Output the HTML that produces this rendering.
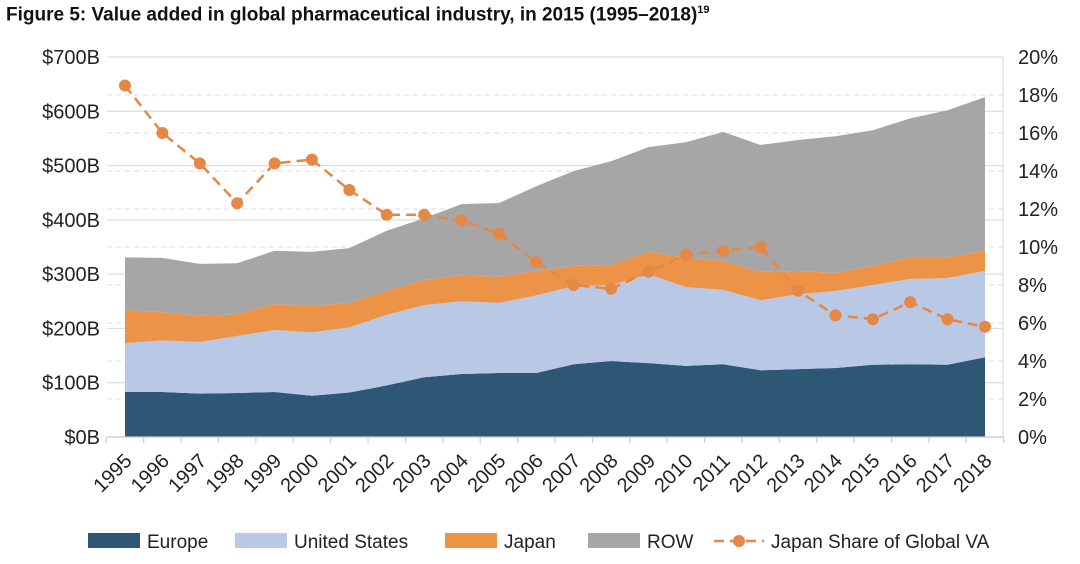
<!DOCTYPE html>
<html><head><meta charset="utf-8">
<style>
body{margin:0;background:#fff;width:1080px;height:564px;overflow:hidden;font-family:"Liberation Sans",sans-serif;}
#title{position:absolute;left:6px;top:4px;font-size:19px;font-weight:bold;font-family:"Liberation Sans Narrow","Liberation Sans",sans-serif;color:#111;white-space:nowrap;}
#title sup{font-size:11px;}
</style></head><body>
<div id="title">Figure 5: Value added in global pharmaceutical industry, in 2015 (1995–2018)<sup>19</sup></div>
<svg id="chart" width="1080" height="564" style="position:absolute;left:0;top:0"></svg>
<script>
const years=[1995,1996,1997,1998,1999,2000,2001,2002,2003,2004,2005,2006,2007,2008,2009,2010,2011,2012,2013,2014,2015,2016,2017,2018];
const europe=[83,83,80,81,83,76,82,95,110,116,118,118,134,140,136,131,134,123,125,127,133,134,133,147];
const unitedStates=[90,95,95,105,114,117,120,130,133,134,129,143,144,140,164,145,137,129,138,142,147,157,160,159];
const japan=[61,52,48,40,48,48,45,44,46,48,48,45,37,37,41,54,53,52,43,33,35,40,38,37];
const row=[97,100,96,94,98,100,101,111,114,131,136,156,175,191,193,213,238,234,241,252,250,256,271,283];
const japanShare=[18.5,16.0,14.4,12.3,14.4,14.6,13.0,11.7,11.7,11.4,10.7,9.2,8.0,7.8,8.7,9.6,9.8,10.0,7.7,6.4,6.2,7.1,6.2,5.8];
const leftTicks=[0,100,200,300,400,500,600,700];
const rightTicks=[0,2,4,6,8,10,12,14,16,18,20];

const svg=document.getElementById('chart');const NS='http://www.w3.org/2000/svg';
function mk(t,a,p){const e=document.createElementNS(NS,t);for(const k in a)e.setAttribute(k,a[k]);(p||svg).appendChild(e);return e;}
const x0=125,x1=985,yTop=57,yBot=437;
const step=(x1-x0)/(years.length-1);
const xs=i=>x0+step*i;
const yL=v=>yBot-(yBot-yTop)*v/700;
const yR=v=>yBot-(yBot-yTop)*v/20;
rightTicks.forEach(t=>{const g=mk('line',{x1:107,x2:1003,y1:yR(t),y2:yR(t),stroke:'#ddd','stroke-dasharray':'5,4','stroke-width':1});

});
leftTicks.forEach(t=>{const g=mk('line',{x1:107,x2:1003,y1:yL(t),y2:yL(t),stroke:'#ddd','stroke-width':1.2});


const l=mk('text',{x:100,y:yL(t)+7,'text-anchor':'end','font-size':20,fill:'#222'});l.textContent='$'+t+'B';

});
rightTicks.forEach(t=>{const l=mk('text',{x:1018,y:yR(t)+7,'font-size':20,fill:'#222'});l.textContent=t+'%';

});
const ax=mk('line',{x1:1003,x2:1003,y1:yTop,y2:yBot,stroke:'#ddd','stroke-width':1.2});


const series=[[europe,'#2e5775','europe-area'],[unitedStates,'#b8c8e5','united-states-area'],[japan,'#ec9348','japan-area'],[row,'#a6a6a6','row-area']];
let base=years.map(()=>0);
series.forEach(([d,c,n])=>{const topv=base.map((b,i)=>b+d[i]);
let p='M'+topv.map((v,i)=>xs(i)+','+yL(v)).join('L');
for(let i=years.length-1;i>=0;i--)p+='L'+xs(i)+','+yL(base[i]);
const a=mk('path',{d:p+'Z',fill:c});


base=topv;});
const bx=mk('line',{x1:107,x2:1003,y1:yBot,y2:yBot,stroke:'#ccc','stroke-width':1.2});


for(let i=0;i<=years.length;i++){const tk=mk('line',{x1:xs(i)-step/2,x2:xs(i)-step/2,y1:yBot,y2:yBot+6,stroke:'#ccc','stroke-width':1.2});

}
const ln=mk('polyline',{points:japanShare.map((v,i)=>xs(i)+','+yR(v)).join(' '),fill:'none',stroke:'#e58745','stroke-width':2.5,'stroke-dasharray':'10,6'});


japanShare.forEach((v,i)=>{const c=mk('circle',{cx:xs(i),cy:yR(v),r:6,fill:'#e58745'});

});
years.forEach((y,i)=>{const tx=xs(i)+8,ty=462;const t=mk('text',{x:tx,y:ty,'text-anchor':'end','font-size':20,fill:'#222',transform:`rotate(-45 ${tx} ${ty})`});t.textContent=y;

});
const leg=[['Europe','#2e5775',88,'rect'],['United States','#b8c8e5',235,'rect'],['Japan','#ec9348',445,'rect'],['ROW','#a6a6a6',588,'rect'],['Japan Share of Global VA','#e58745',714,'line']];
leg.forEach(([n,c,x,k])=>{const g=mk('g',{});


let tx;
if(k=='rect'){mk('rect',{x:x,y:533,width:52,height:15,fill:c},g);tx=x+59;}
else{mk('line',{x1:x,x2:x+50,y1:541,y2:541,stroke:c,'stroke-width':2.5,'stroke-dasharray':'10,6'},g);mk('circle',{cx:x+25,cy:541,r:6,fill:c},g);tx=x+57;}
const t=mk('text',{x:tx,y:548,'font-size':19,fill:'#222'},g);t.textContent=n;});
</script>
</body></html>
